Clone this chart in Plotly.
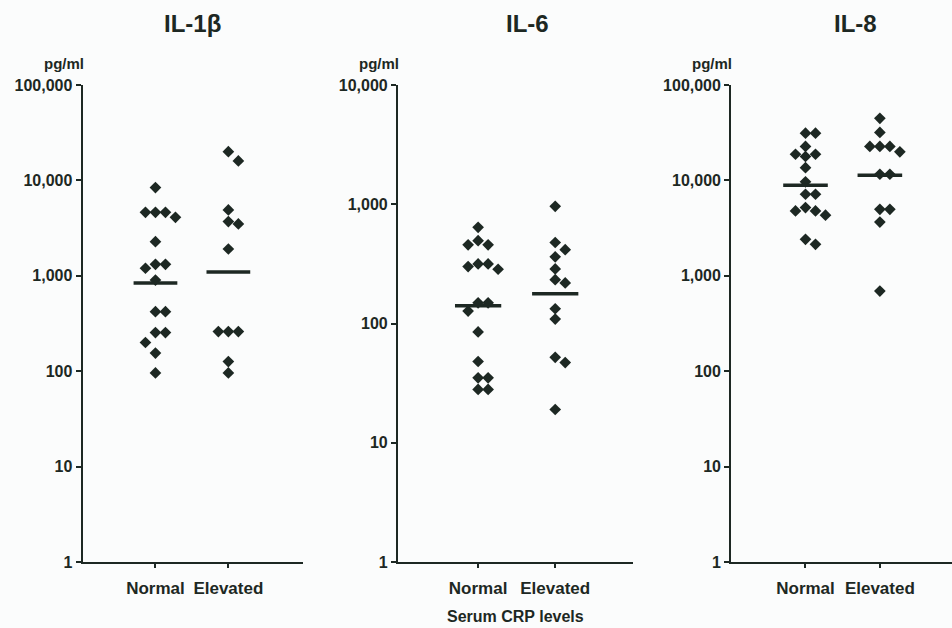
import math
import plotly.graph_objects as go

# ---------------- data (pg/ml) ----------------
groups = ["Normal", "Elevated"]
titles = ["IL-1β", "IL-6", "IL-8"]

il1b_normal = [8400, 4630, 4630, 4630, 4100, 2280, 1318, 1318, 1200, 903,
               421, 421, 254, 254, 200, 155, 96]
il1b_elevated = [20000, 16000, 4900, 3700, 3500, 1910, 260, 260, 260, 126, 96]
il1b_median = [841, 1096]

il6_normal = [640, 495, 457, 457, 316, 316, 300, 285, 149, 149, 127, 85,
              48, 35, 35, 28, 28]
il6_elevated = [960, 478, 416, 362, 287, 233, 219, 133, 109, 52, 47, 19]
il6_median = [141, 178]

il8_normal = [31300, 31300, 22700, 18800, 18800, 17800, 13600, 9660, 7160,
              7160, 5190, 4790, 4790, 4315, 2410, 2140]
il8_elevated = [44700, 31800, 22700, 22700, 22700, 19950, 11600, 11600,
                4980, 4980, 3660, 692]
il8_median = [8900, 11350]

ytick_vals = [1, 10, 100, 1000, 10000, 100000]
ytick_text = ["1", "10", "100", "1,000", "10,000", "100,000"]

# ---------------- styling / layout ----------------
W, H = 952, 628
MT, MB = 85, 66
PLOT_H = H - MT - MB
INK = "#1d2823"
BG = "#fbfcfc"
FONT = "Liberation Sans, Arial, sans-serif"

panels = [
    dict(title=titles[0], data=(il1b_normal, il1b_elevated), med=il1b_median,
         decades=5, dom=[0.0867, 0.318], xr=[0.0, 3.02], tshift=0),
    dict(title=titles[1], data=(il6_normal, il6_elevated), med=il6_median,
         decades=4, dom=[0.418, 0.665], xr=[-0.04, 3.01], tshift=12),
    dict(title=titles[2], data=(il8_normal, il8_elevated), med=il8_median,
         decades=5, dom=[0.768, 1.0], xr=[0.0, 2.97], tshift=14),
]


def beeswarm(values, px_per_dec, px_per_unit, step=10.0, dmin=10.0):
    """Return horizontal offsets (data units) so markers don't overlap."""
    order = sorted(range(len(values)), key=lambda i: -values[i])
    placed = []
    offs = [0.0] * len(values)
    for i in order:
        py = math.log10(values[i]) * px_per_dec
        k = 0
        while True:
            cands = [0] if k == 0 else [k, -k]
            ok = None
            for c in cands:
                px = c * step
                if all((px - qx) ** 2 + (py - qy) ** 2 >= dmin ** 2 for qx, qy in placed):
                    ok = px
                    break
            if ok is not None:
                placed.append((ok, py))
                offs[i] = ok / px_per_unit
                break
            k += 1
    return offs


fig = go.Figure()
annotations = []

for p_i, p in enumerate(panels):
    sfx = "" if p_i == 0 else str(p_i + 1)
    xa, ya = "x" + sfx, "y" + sfx
    px_per_dec = PLOT_H / p["decades"]
    px_per_unit = (p["dom"][1] - p["dom"][0]) * W / (p["xr"][1] - p["xr"][0])

    for g_i, vals in enumerate(p["data"]):
        center = g_i + 1
        offs = beeswarm(vals, px_per_dec, px_per_unit)
        fig.add_trace(go.Scatter(
            x=[center + o for o in offs], y=vals, mode="markers",
            marker=dict(symbol="diamond", size=9, color=INK, line=dict(width=0)),
            xaxis=xa, yaxis=ya, showlegend=False, hoverinfo="y"))
        # median bar
        fig.add_trace(go.Scatter(
            x=[center - 0.3, center + 0.3], y=[p["med"][g_i]] * 2, mode="lines",
            line=dict(color=INK, width=3.5), xaxis=xa, yaxis=ya,
            showlegend=False, hoverinfo="skip"))

    fig.update_layout({
        ("xaxis" + sfx): dict(
            domain=p["dom"], range=p["xr"], tickvals=[1, 2], ticktext=groups,
            showgrid=False, zeroline=False, showline=True, linecolor=INK,
            linewidth=2, ticks="outside", ticklen=4, tickwidth=1.5,
            tickcolor=INK, ticklabelstandoff=6,
            tickfont=dict(family=FONT, size=17, color=INK, weight="bold"),
            anchor=ya, fixedrange=True),
        ("yaxis" + sfx): dict(
            type="log", range=[0, p["decades"]],
            tickvals=ytick_vals[:p["decades"] + 1],
            ticktext=ytick_text[:p["decades"] + 1],
            showgrid=False, zeroline=False, showline=True, linecolor=INK,
            linewidth=2, ticks="outside", ticklen=5, tickwidth=1.5,
            tickcolor=INK,
            tickfont=dict(family=FONT, size=16, color=INK, weight="bold"),
            anchor=xa, fixedrange=True),
    })

    annotations.append(dict(
        text=p["title"], xref=xa + " domain", yref="paper", x=0.5, y=1,
        xanchor="center", yanchor="middle", yshift=62, xshift=p["tshift"],
        showarrow=False, font=dict(family=FONT, size=24, color=INK, weight="bold")))
    annotations.append(dict(
        text="pg/ml", xref=xa + " domain", yref="paper", x=0, y=1,
        xanchor="right", yanchor="middle", yshift=22, xshift=3,
        showarrow=False, font=dict(family=FONT, size=15, color=INK, weight="bold")))

annotations.append(dict(
    text="Serum CRP levels", xref="x2 domain", yref="paper", x=0.5, y=0,
    xanchor="center", yanchor="middle", yshift=-54, showarrow=False,
    font=dict(family=FONT, size=16, color=INK, weight="bold")))

fig.update_layout(
    width=W, height=H, margin=dict(l=0, r=0, t=MT, b=MB),
    paper_bgcolor=BG, plot_bgcolor=BG, annotations=annotations,
    showlegend=False)

fig.write_html("out.html", config={"displayModeBar": False})
